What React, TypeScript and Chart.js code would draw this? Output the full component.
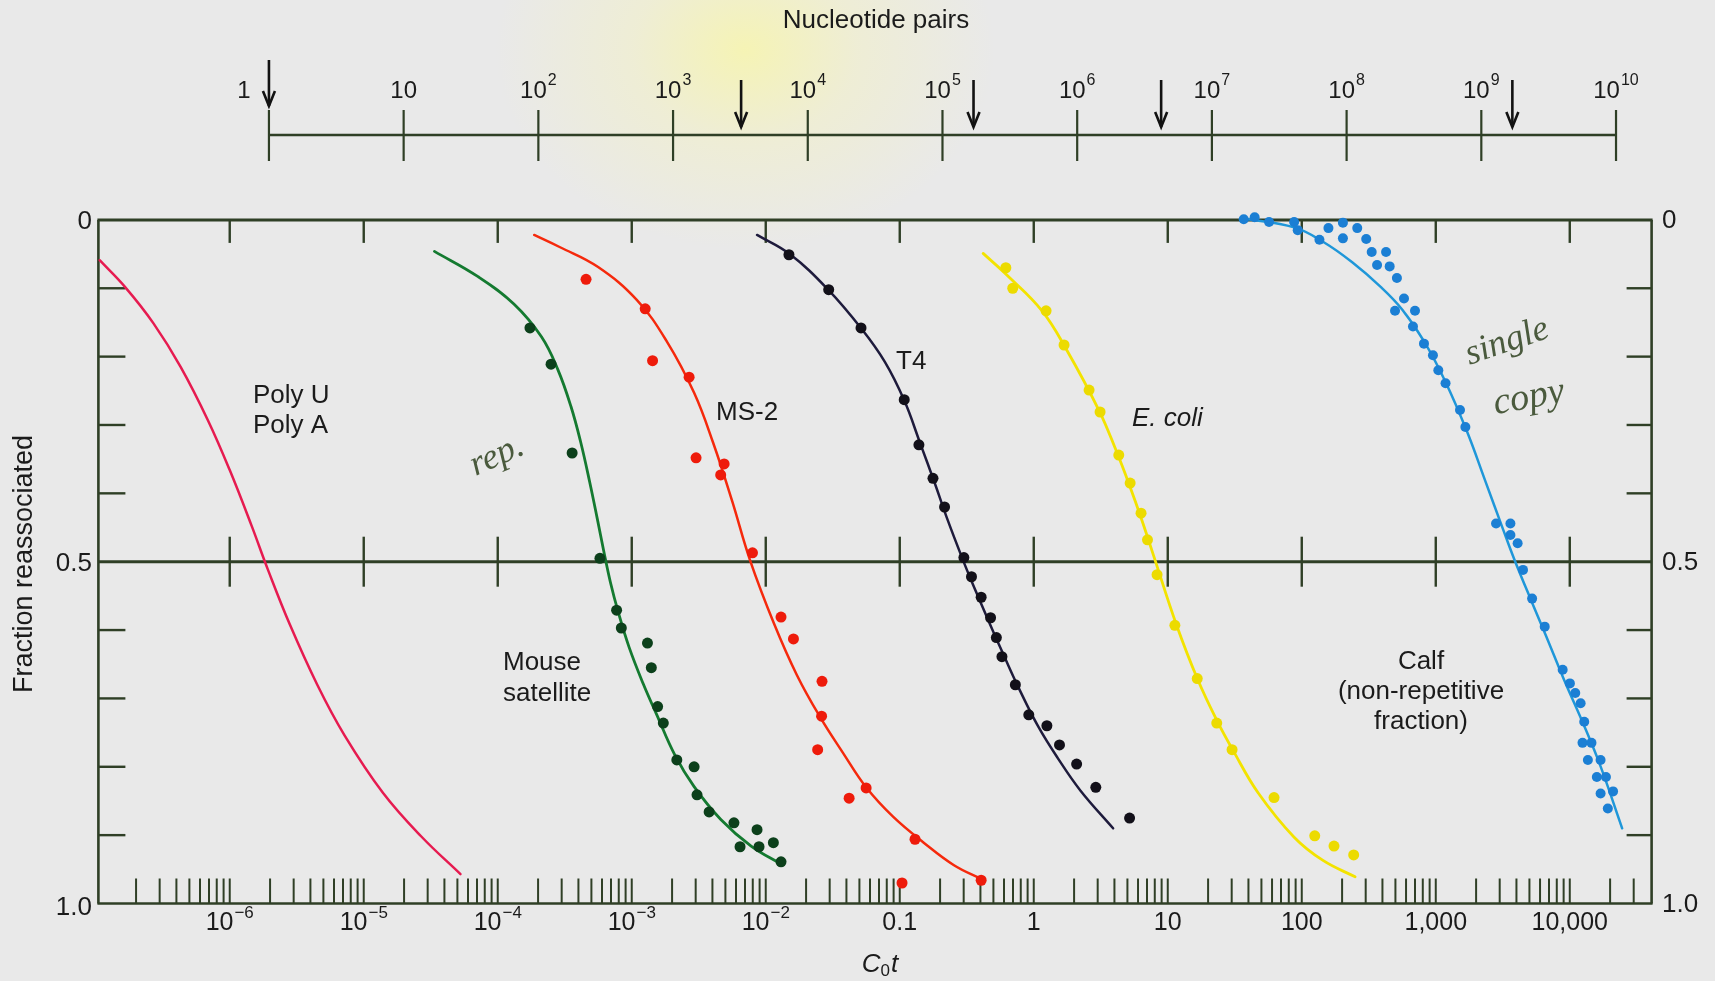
import React, { useEffect, useRef } from "react";
import { Chart, registerables } from "chart.js";

Chart.register(...registerables);

// ---------------- data (C0t in mol·s/L, fraction reassociated) ----------------
const polyCurveCot = [1.07e-7, 1.67e-7, 2.69e-7, 4.3e-7, 6.87e-7, 1.0e-6, 1.46e-6, 1.93e-6, 2.81e-6, 4.5e-6, 7.19e-6, 1.39e-5, 2.69e-5, 5.27e-5];
const polyCurveFrac = [0.059, 0.099, 0.151, 0.215, 0.293, 0.366, 0.448, 0.512, 0.592, 0.68, 0.754, 0.838, 0.902, 0.957];

const mouseCurveCot = [3.37e-5, 7.13e-5, 1.32e-4, 2.12e-4, 2.81e-4, 3.52e-4, 4.17e-4, 4.85e-4, 5.53e-4, 6.19e-4, 6.93e-4, 7.91e-4, 9.55e-4, 1.22e-3, 1.53e-3, 2.1e-3, 2.92e-3, 4.62e-3, 7.78e-3, 1.32e-2];
const mouseCurveFrac = [0.046, 0.083, 0.123, 0.171, 0.219, 0.273, 0.326, 0.383, 0.437, 0.485, 0.53, 0.573, 0.625, 0.679, 0.723, 0.783, 0.829, 0.877, 0.916, 0.943];
const mouseDotCot = [1.74e-4, 2.5e-4, 3.59e-4, 5.79e-4, 7.71e-4, 8.36e-4, 1.31e-3, 1.4e-3, 1.56e-3, 1.72e-3, 2.17e-3, 2.92e-3, 3.07e-3, 3.78e-3, 5.79e-3, 6.43e-3, 8.61e-3, 8.91e-3, 1.14e-2, 1.3e-2];
const mouseDotFrac = [0.158, 0.211, 0.341, 0.495, 0.571, 0.597, 0.619, 0.655, 0.712, 0.736, 0.79, 0.8, 0.841, 0.866, 0.882, 0.917, 0.892, 0.917, 0.911, 0.939];

const ms2CurveCot = [1.87e-4, 2.92e-4, 5.61e-4, 1.09e-3, 1.83e-3, 2.92e-3, 4.05e-3, 5.61e-3, 7.64e-3, 1.15e-2, 1.71e-2, 2.54e-2, 3.78e-2, 5.61e-2, 8.91e-2, 0.151, 0.254, 0.405];
const ms2CurveFrac = [0.022, 0.04, 0.069, 0.117, 0.178, 0.253, 0.326, 0.411, 0.498, 0.59, 0.666, 0.727, 0.78, 0.83, 0.873, 0.911, 0.944, 0.964];
const ms2DotCot = [4.56e-4, 1.26e-3, 1.43e-3, 2.68e-3, 3.02e-3, 4.89e-3, 4.61e-3, 7.96e-3, 1.3e-2, 1.61e-2, 2.63e-2, 2.61e-2, 2.44e-2, 4.19e-2, 5.61e-2, 0.13, 0.104, 0.405];
const ms2DotFrac = [0.087, 0.13, 0.206, 0.23, 0.348, 0.357, 0.373, 0.487, 0.581, 0.613, 0.675, 0.726, 0.775, 0.846, 0.831, 0.906, 0.97, 0.966];

const t4CurveCot = [8.61e-3, 1.51e-2, 2.92e-2, 5.22e-2, 7.76e-2, 0.108, 0.141, 0.184, 0.223, 0.297, 0.353, 0.461, 0.601, 0.778, 1.079, 1.507, 2.234, 3.91];
const t4CurveFrac = [0.022, 0.05, 0.102, 0.16, 0.208, 0.264, 0.325, 0.387, 0.434, 0.498, 0.534, 0.587, 0.638, 0.686, 0.741, 0.787, 0.835, 0.89];
const t4DotCot = [1.49e-2, 2.95e-2, 5.14e-2, 0.108, 0.139, 0.177, 0.216, 0.301, 0.343, 0.405, 0.476, 0.526, 0.579, 0.729, 0.918, 1.253, 1.556, 2.089, 2.904, 5.19];
const t4DotFrac = [0.051, 0.102, 0.158, 0.263, 0.329, 0.378, 0.42, 0.494, 0.522, 0.552, 0.582, 0.611, 0.639, 0.68, 0.724, 0.74, 0.768, 0.796, 0.83, 0.875];

const ecoliCurveCot = [0.419, 0.641, 1.153, 1.758, 3.09, 4.09, 5.13, 6.43, 8.05, 11.5, 16.7, 23.5, 30.7, 47.2, 87.7, 144, 250];
const ecoliCurveFrac = [0.049, 0.082, 0.133, 0.19, 0.28, 0.336, 0.386, 0.44, 0.498, 0.59, 0.672, 0.734, 0.776, 0.838, 0.903, 0.937, 0.961];
const ecoliDotCot = [0.619, 0.697, 1.236, 1.683, 2.588, 3.126, 4.31, 5.24, 6.32, 7.06, 8.32, 11.3, 16.6, 23.2, 30.2, 62.1, 125, 174, 244];
const ecoliDotFrac = [0.07, 0.1, 0.133, 0.183, 0.249, 0.281, 0.344, 0.385, 0.429, 0.468, 0.519, 0.593, 0.671, 0.736, 0.775, 0.845, 0.901, 0.916, 0.929];

const calfCurveCot = [36.9, 87.7, 144, 238, 388, 561, 820, 1183, 1714, 2333, 3184, 3846, 5236, 6668, 9078, 12360, 16870, 24600];
const calfCurveFrac = [-0.002, 0.011, 0.032, 0.062, 0.098, 0.131, 0.178, 0.237, 0.31, 0.381, 0.453, 0.496, 0.56, 0.609, 0.673, 0.733, 0.798, 0.89];
const calfDotCot = [36.9, 44.5, 57.0, 66.5, 80.0, 87.7, 112.5, 93.3, 135.5, 158.1, 202.8, 202.8, 259.4, 302.7, 332.7, 425.6, 364.8, 452.9, 512.9, 579.4, 496.6, 699.8, 676.1, 816.6, 952.8, 1045, 1183, 1517, 1663, 2818, 3606, 3606, 4083, 4477, 5236, 6501, 8851, 10020, 10990, 12050, 12820, 12450, 14520, 13650, 16980, 15920, 18620, 16980, 21040, 19230];
const calfDotFrac = [-0.001, -0.004, 0.003, -0.01, -0.01, 0.003, -0.01, 0.015, 0.029, 0.012, 0.004, 0.027, 0.012, 0.028, 0.047, 0.047, 0.066, 0.068, 0.085, 0.115, 0.133, 0.133, 0.156, 0.181, 0.198, 0.22, 0.239, 0.278, 0.303, 0.444, 0.444, 0.461, 0.473, 0.512, 0.554, 0.595, 0.658, 0.678, 0.692, 0.707, 0.734, 0.765, 0.765, 0.79, 0.79, 0.815, 0.815, 0.839, 0.836, 0.861];

// ---------------- axes / ticks ----------------
const cotTickValues = [1e-6, 1e-5, 1e-4, 1e-3, 1e-2, 0.1, 1, 10, 100, 1000, 10000];
const cotTickBase = ["10", "10", "10", "10", "10", "0.1", "1", "10", "100", "1,000", "10,000"];
const cotTickSup = ["\u22126", "\u22125", "\u22124", "\u22123", "\u22122", "", "", "", "", "", ""];
const cotMinorMantissas = [2, 3, 4, 5, 6, 7, 8, 9, 10];

const fracMajorTicks = [0, 0.5, 1.0];
const fracMajorLabels = ["0", "0.5", "1.0"];
const fracMinorTicks = [0.1, 0.2, 0.3, 0.4, 0.6, 0.7, 0.8, 0.9];

const ntTickValues = [1, 1e1, 1e2, 1e3, 1e4, 1e5, 1e6, 1e7, 1e8, 1e9, 1e10];
const ntTickBase = ["1", "10", "10", "10", "10", "10", "10", "10", "10", "10", "10"];
const ntTickSup = ["", "", "2", "3", "4", "5", "6", "7", "8", "9", "10"];
const ntArrowValues = [1, 3.2e3, 1.7e5, 4.2e6, 1.7e9];

// ---------------- styles ----------------
const AXIS_COLOR = "#2f3f26";
const TEXT_COLOR = "#1b1b1b";
const HAND_COLOR = "#4a5a3d";
const SANS = '"Liberation Sans", Arial, Helvetica, sans-serif';
const SERIF = '"Liberation Serif", "DejaVu Serif", serif';

const annotations = [
  { text: "Poly U", x: 253, y: 396, align: "left", italic: false },
  { text: "Poly A", x: 253, y: 426, align: "left", italic: false },
  { text: "Mouse", x: 503, y: 663, align: "left", italic: false },
  { text: "satellite", x: 503, y: 694, align: "left", italic: false },
  { text: "MS-2", x: 716, y: 413, align: "left", italic: false },
  { text: "T4", x: 896, y: 362, align: "left", italic: false },
  { text: "E. coli", x: 1132, y: 419, align: "left", italic: true },
  { text: "Calf", x: 1421, y: 662, align: "center", italic: false },
  { text: "(non-repetitive", x: 1421, y: 692, align: "center", italic: false },
  { text: "fraction)", x: 1421, y: 722, align: "center", italic: false },
];

const handNotes = [
  { text: "rep.", x: 497, y: 456, rot: -0.42, size: 36 },
  { text: "single", x: 1507, y: 342, rot: -0.33, size: 36 },
  { text: "copy", x: 1529, y: 398, rot: -0.18, size: 38 },
];

function pts(xs: number[], ys: number[]) {
  return xs.map((x, i) => ({ x, y: ys[i] }));
}

function curve(label: string, xs: number[], ys: number[], color: string, width = 2.6) {
  return {
    label,
    data: pts(xs, ys),
    showLine: true,
    borderColor: color,
    backgroundColor: color,
    borderWidth: width,
    pointRadius: 0,
    tension: 0.4,
    borderCapStyle: "round",
    borderJoinStyle: "round",
    fill: false,
    order: 2,
    clip: false,
  };
}

function dots(label: string, xs: number[], ys: number[], color: string, r = 5.5) {
  return {
    label,
    data: pts(xs, ys),
    showLine: false,
    backgroundColor: color,
    borderColor: color,
    borderWidth: 0,
    pointRadius: r,
    order: 1,
    clip: false,
  };
}

function supLabel(ctx: CanvasRenderingContext2D, cx: number, cy: number, base: string, sup: string, size: number, supSize: number, raise: number) {
  ctx.font = `${size}px ${SANS}`;
  const wb = ctx.measureText(base).width;
  ctx.font = `${supSize}px ${SANS}`;
  const ws = sup ? ctx.measureText(sup).width + 1 : 0;
  const start = cx - (wb + ws) / 2;
  ctx.textAlign = "left";
  ctx.textBaseline = "middle";
  ctx.font = `${size}px ${SANS}`;
  ctx.fillText(base, start, cy);
  if (sup) {
    ctx.font = `${supSize}px ${SANS}`;
    ctx.fillText(sup, start + wb + 1, cy - raise);
  }
}

const decorPlugin = {
  id: "cotDecor",
  beforeDatasetsDraw(chart: any) {
    const { ctx, chartArea: a } = chart;
    const xs = chart.scales.x;
    const ys = chart.scales.y;
    const xt = chart.scales.xTop;
    ctx.save();
    ctx.strokeStyle = AXIS_COLOR;
    ctx.lineCap = "butt";
    const seg = (x1: number, y1: number, x2: number, y2: number, w: number) => {
      ctx.lineWidth = w;
      ctx.beginPath();
      ctx.moveTo(x1, y1);
      ctx.lineTo(x2, y2);
      ctx.stroke();
    };
    // frame
    seg(a.left - 1, a.top, a.right + 1, a.top, 3);
    seg(a.left - 1, a.bottom, a.right + 1, a.bottom, 2.6);
    seg(a.left, a.top, a.left, a.bottom, 2.6);
    seg(a.right, a.top, a.right, a.bottom, 2.6);
    const yMid = ys.getPixelForValue(0.5);
    seg(a.left, yMid, a.right, yMid, 3);
    // decade ticks on top line and crossing the 0.5 line
    for (const v of cotTickValues) {
      const px = xs.getPixelForValue(v);
      seg(px, a.top, px, a.top + 23, 2.4);
      seg(px, yMid - 25, px, yMid + 25, 2.4);
    }
    // fraction ticks, left and right
    for (const v of fracMinorTicks) {
      const py = ys.getPixelForValue(v);
      seg(a.left, py, a.left + 27, py, 2.4);
      seg(a.right - 25, py, a.right, py, 2.4);
    }
    // log minor ticks on the bottom line
    for (let k = -8; k <= 4; k++) {
      for (const m of cotMinorMantissas) {
        const v = m * Math.pow(10, k);
        if (v <= xs.min * 1.3 || v >= xs.max * 0.97) continue;
        const px = xs.getPixelForValue(v);
        seg(px, a.bottom, px, a.bottom - 25, 2);
      }
    }
    // nucleotide pairs axis
    const yN = 135;
    seg(xt.getPixelForValue(ntTickValues[0]), yN, xt.getPixelForValue(ntTickValues[ntTickValues.length - 1]), yN, 2.6);
    for (const v of ntTickValues) {
      const px = xt.getPixelForValue(v);
      seg(px, 110, px, 161, 2.2);
    }
    // arrows
    ctx.strokeStyle = "#121212";
    ntArrowValues.forEach((v, i) => {
      const px = xt.getPixelForValue(v);
      const top = i === 0 ? 60 : 80;
      const bot = i === 0 ? 106 : 127;
      seg(px, top, px, bot, 2.6);
      ctx.lineWidth = 2.6;
      ctx.beginPath();
      ctx.moveTo(px - 6, bot - 15);
      ctx.lineTo(px, bot);
      ctx.lineTo(px + 6, bot - 15);
      ctx.stroke();
    });
    ctx.restore();
  },
  afterDraw(chart: any) {
    const { ctx } = chart;
    const xs = chart.scales.x;
    const ys = chart.scales.y;
    const xt = chart.scales.xTop;
    ctx.save();
    ctx.fillStyle = TEXT_COLOR;
    // top title
    ctx.font = `26px ${SANS}`;
    ctx.textAlign = "center";
    ctx.textBaseline = "middle";
    ctx.fillText("Nucleotide pairs", 876, 21);
    // nucleotide tick labels
    ntTickValues.forEach((v, i) => {
      let cx = xt.getPixelForValue(v);
      if (i === 0) cx -= 25;
      supLabel(ctx, cx, 91, ntTickBase[i], ntTickSup[i], 24, 16, 10);
    });
    // C0t tick labels
    cotTickValues.forEach((v, i) => {
      supLabel(ctx, xs.getPixelForValue(v), 923, cotTickBase[i], cotTickSup[i], 25, 17, 10);
    });
    // fraction labels
    ctx.font = `26px ${SANS}`;
    ctx.textBaseline = "middle";
    fracMajorTicks.forEach((v, i) => {
      const py = ys.getPixelForValue(v);
      ctx.textAlign = "right";
      ctx.fillText(fracMajorLabels[i], 92, py + (i === 2 ? 4 : 2));
      ctx.textAlign = "left";
      ctx.fillText(fracMajorLabels[i], 1662, py + 1);
    });
    // x title C0t
    {
      const cx = 880, cy = 965;
      ctx.textBaseline = "middle";
      ctx.textAlign = "left";
      ctx.font = `italic 26px ${SANS}`;
      const wC = ctx.measureText("C").width;
      const wt = ctx.measureText("t").width;
      ctx.font = `17px ${SANS}`;
      const w0 = ctx.measureText("0").width;
      const start = cx - (wC + w0 + wt + 1) / 2;
      ctx.font = `italic 26px ${SANS}`;
      ctx.fillText("C", start, cy);
      ctx.font = `17px ${SANS}`;
      ctx.fillText("0", start + wC, cy + 6);
      ctx.font = `italic 26px ${SANS}`;
      ctx.fillText("t", start + wC + w0 + 1, cy);
    }
    // y title
    ctx.save();
    ctx.translate(25, 564);
    ctx.rotate(-Math.PI / 2);
    ctx.font = `27px ${SANS}`;
    ctx.textAlign = "center";
    ctx.textBaseline = "middle";
    ctx.fillText("Fraction reassociated", 0, 0);
    ctx.restore();
    // curve annotations
    for (const an of annotations) {
      ctx.font = `${an.italic ? "italic " : ""}26px ${SANS}`;
      ctx.textAlign = an.align as CanvasTextAlign;
      ctx.textBaseline = "middle";
      ctx.fillText(an.text, an.x, an.y);
    }
    // handwritten notes
    ctx.fillStyle = HAND_COLOR;
    for (const h of handNotes) {
      ctx.save();
      ctx.translate(h.x, h.y);
      ctx.rotate(h.rot);
      ctx.font = `italic ${h.size}px ${SERIF}`;
      ctx.textAlign = "center";
      ctx.textBaseline = "middle";
      ctx.fillText(h.text, 0, 0);
      ctx.restore();
    }
    ctx.restore();
  },
};

export default function App() {
  const ref = useRef<HTMLCanvasElement>(null);

  useEffect(() => {
    const canvas = ref.current;
    if (!canvas) return;
    const chart = new Chart(canvas, {
      type: "scatter",
      data: {
        datasets: [
          curve("Poly U / Poly A", polyCurveCot, polyCurveFrac, "#e61b50", 2.5),
          curve("Mouse satellite", mouseCurveCot, mouseCurveFrac, "#147a30", 2.8),
          dots("Mouse satellite data", mouseDotCot, mouseDotFrac, "#0c401b", 5.5),
          curve("MS-2", ms2CurveCot, ms2CurveFrac, "#f5290c", 2.5),
          dots("MS-2 data", ms2DotCot, ms2DotFrac, "#ee1b0b", 5.5),
          curve("T4", t4CurveCot, t4CurveFrac, "#1e1b3c", 2.5),
          dots("T4 data", t4DotCot, t4DotFrac, "#121019", 5.5),
          curve("E. coli", ecoliCurveCot, ecoliCurveFrac, "#f3e300", 2.8),
          dots("E. coli data", ecoliDotCot, ecoliDotFrac, "#ecdb00", 5.5),
          curve("Calf", calfCurveCot, calfCurveFrac, "#1f97d9", 2.5),
          dots("Calf data", calfDotCot, calfDotFrac, "#1b7fd4", 5),
        ] as any,
      },
      options: {
        animation: false,
        responsive: false,
        maintainAspectRatio: false,
        events: [],
        layout: { padding: { left: 98.4, right: 63.4, top: 219.9, bottom: 77.5 } },
        plugins: { legend: { display: false }, tooltip: { enabled: false }, title: { display: false } },
        scales: {
          x: { type: "logarithmic", min: 1.047e-7, max: 4.08e4, display: false },
          y: { type: "linear", min: 0, max: 1, reverse: true, display: false },
          xTop: { type: "logarithmic", axis: "x", position: "top", min: 0.0542, max: 1.837e10, display: false },
        },
      } as any,
      plugins: [decorPlugin],
    });
    return () => chart.destroy();
  }, []);

  return (
    <div
      style={{
        position: "fixed",
        left: 0,
        top: 0,
        width: 1715,
        height: 981,
        overflow: "hidden",
        background:
          "radial-gradient(ellipse 250px 200px at 745px 50px, rgba(246,244,178,0.95) 0%, rgba(242,240,200,0.6) 45%, rgba(233,233,233,0) 100%), #e9e9e9",
      }}
    >
      <canvas ref={ref} width={1715} height={981} style={{ display: "block", width: 1715, height: 981 }} />
    </div>
  );
}
